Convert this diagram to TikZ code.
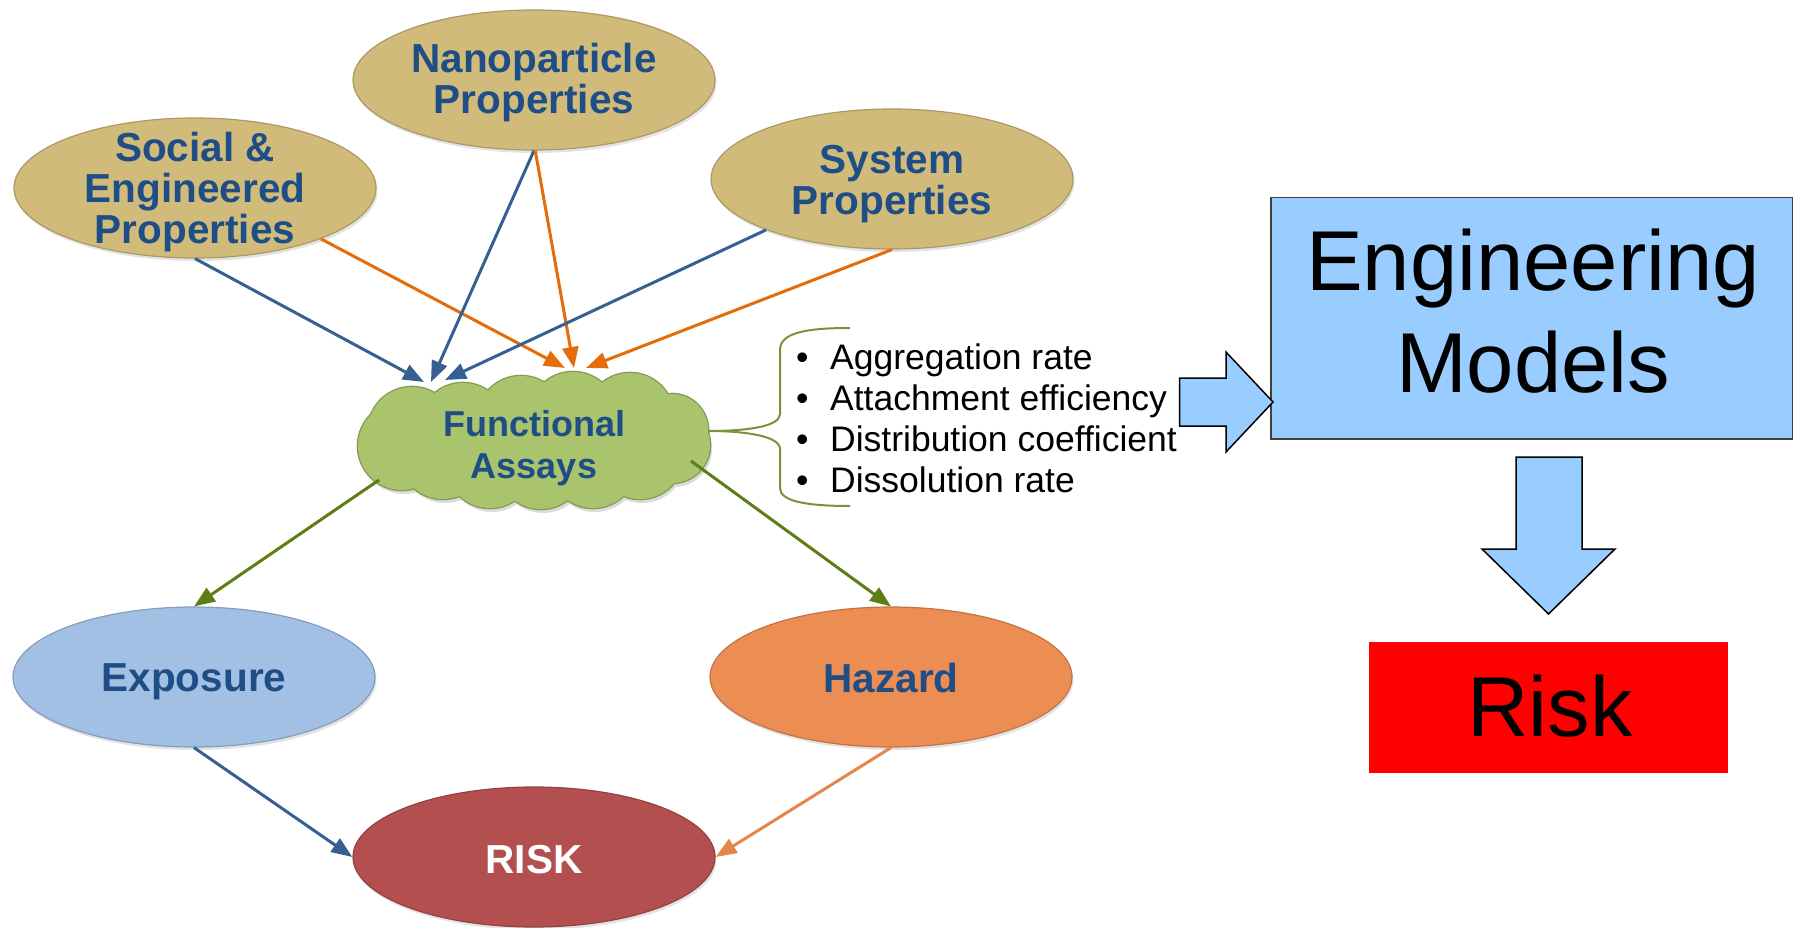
\documentclass[tikz,border=0pt]{standalone}
\usepackage{fontspec}
\setmainfont{Liberation Sans}
\usetikzlibrary{shapes.geometric,arrows.meta,calc,shadows}
\definecolor{tanE}{HTML}{D1BB7B}
\definecolor{expC}{HTML}{A2C0E4}
\definecolor{hazC}{HTML}{EC8D53}
\definecolor{riskC}{HTML}{B44F50}
\definecolor{cloudC}{HTML}{A9C46C}
\definecolor{txtBlue}{HTML}{1F4E86}
\definecolor{arBlue}{HTML}{376092}
\definecolor{arOrange}{HTML}{E46C0A}
\definecolor{arLightOrange}{HTML}{E3874B}
\definecolor{arGreen}{HTML}{5E7D15}
\definecolor{braceC}{HTML}{77933C}
\definecolor{modelBlue}{HTML}{99CCFF}
\definecolor{boxRed}{HTML}{FF0000}
\tikzset{
  ell/.style={ellipse, minimum width=362pt, minimum height=140pt, inner sep=0pt, line width=1.2pt,
    drop shadow={opacity=0.22, shadow xshift=1.5pt, shadow yshift=-3pt}},
  ellfill/.style={fill=#1, draw=#1!82!black},
  etext/.style={align=center, text=txtBlue, font=\bfseries\fontsize{40.5}{41}\selectfont, inner sep=0pt},
  ctext/.style={align=center, text=txtBlue, font=\bfseries\fontsize{36}{42}\selectfont, inner sep=0pt},
  conn/.style={line width=3pt, -{Triangle[length=21pt,width=16pt]}},
  btext/.style={anchor=base west, inner sep=0pt, font=\fontsize{35.5}{40}\selectfont},
  bigtext/.style={anchor=base, inner sep=0pt, font=\fontsize{85}{100}\selectfont},
  blockarrow/.style={fill=modelBlue, draw=black, line width=1.5pt, line join=miter},
  brace/.style={draw=braceC, line width=2pt}
}
\newcommand{\puffs}{412/431/44, 463/427/44, 521/420/44, 573/416/44, 630/417/44, 672/430/36,
  672/445/38, 640/455/44, 593/464/44, 541/465/44, 490/464/44, 443/455/44, 402/446/44}
\begin{document}
\begin{tikzpicture}[x=1pt,y=-1pt]
\useasboundingbox (0,0) rectangle (1793,928);

% ellipses
\node[ell, ellfill=tanE] (nano) at (534,80) {};
\node[etext] (nanot) at ($(nano)+(0,3)$) {Nanoparticle\\Properties};
\node[ell, ellfill=tanE] (soc) at (195,188) {};
\node[etext] (soct) at ($(soc)+(0,4)$) {Social \&\\Engineered\\Properties};
\node[ell, ellfill=tanE] (sys) at (892,179) {};
\node[etext] (syst) at ($(sys)+(0,5)$) {System\\Properties};
\node[ell, ellfill=expC] (exp) at (194,677) {};
\node[etext] (expt) at ($(exp)+(0,5)$) {Exposure};
\node[ell, ellfill=hazC] (haz) at (891,677) {};
\node[etext] (hazt) at ($(haz)+(0,1)$) {Hazard};
\node[ell, ellfill=riskC] (risk) at (534,857) {};
\node[etext, text=white] (riskt) at ($(risk)+(0,3)$) {RISK};

% cloud: shadow, outline, fill
\foreach \cx/\cy/\r in \puffs {
  \fill[black!14] (\cx+2,\cy+4) circle (\r pt);
}
\foreach \cx/\cy/\r in \puffs {
  \draw[cloudC!78!black, line width=2.6pt] (\cx,\cy) circle (\r pt);
}
\foreach \cx/\cy/\r in \puffs {
  \fill[cloudC] (\cx,\cy) circle (\r pt);
}
\fill[cloudC] (420,420) rectangle (650,470);
\node[ellipse, minimum width=348pt, minimum height=136pt, inner sep=0pt] (fa) at (534,440) {};
\node[ctext] (fat) at ($(fa)+(0,8.5)$) {Functional\\Assays};

% connectors into the cloud
\draw[conn, arBlue] (soc.south) -- ($(fa.center)+(-110,-58)$);
\draw[conn, arOrange] (soc.-22) -- ($(fa.center)+(31,-72)$);
\draw[conn, arBlue] (nano.-90.5) -- ($(fa.center)+(-103,-58)$);
\draw[conn, arOrange] (nano.-89.5) -- ($(fa.center)+(40,-72)$);
\draw[conn, arBlue] (sys.-158) -- ($(fa.center)+(-89,-60)$);
\draw[conn, arOrange] (sys.south) -- ($(fa.center)+(52,-72)$);

% cloud to exposure / hazard
\draw[conn, arGreen] ($(fa.center)+(-155,40)$) -- (exp.north);
\draw[conn, arGreen] ($(fa.center)+(157,21)$) -- (haz.north);

% exposure / hazard to risk
\draw[conn, arBlue] (exp.south) -- (risk.west);
\draw[conn, arLightOrange] (haz.south) -- (risk.east);

% brace
\draw[brace] (850,328) .. controls (805,328) and (780,333) .. (780,350) -- (780,414)
  .. controls (780,427) and (745,431) .. ($(fa.east)+(0,-9)$)
  .. controls (745,431) and (780,436) .. (780,449) -- (780,488)
  .. controls (780,501) and (805,506) .. (850,506);

% bullet list
\node[btext] (b1) at (796,369) {\makebox[34pt][l]{•}Aggregation rate};
\node[btext] (b2) at (796,410) {\makebox[34pt][l]{•}Attachment efficiency};
\node[btext] (b3) at (796,451) {\makebox[34pt][l]{•}Distribution coefficient};
\node[btext] (b4) at (796,492) {\makebox[34pt][l]{•}Dissolution rate};

% engineering models box
\node[anchor=north west, minimum width=522pt, minimum height=241pt, inner sep=0pt,
  fill=modelBlue, draw=black!75, line width=1.5pt] (eng) at (1270,197) {};
\node[bigtext] (engt1) at (1533,290) {Engineering};
\node[bigtext] (engt2) at (1533,392) {Models};

% block arrows
\draw[blockarrow] (1179.5,378) -- (1226,378) -- (1226,352) -- (1273,402) -- (1226,452)
  -- (1226,426) -- (1179.5,426) -- cycle;
\draw[blockarrow] (1516,457) -- (1582,457) -- (1582,549) -- (1615,549) -- (1548.5,614)
  -- (1482,549) -- (1516,549) -- cycle;

% risk box
\node[anchor=north west, minimum width=359pt, minimum height=131pt, inner sep=0pt,
  fill=boxRed] (rb) at (1369,642) {};
\node[bigtext] (rbt) at (1550,736) {Risk};
\end{tikzpicture}
\end{document}
